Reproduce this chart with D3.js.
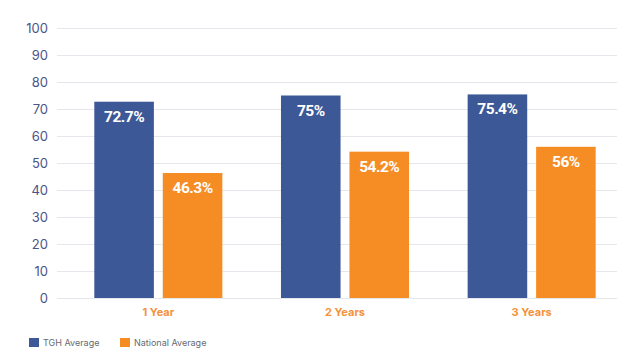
<!DOCTYPE html>
<html>
<head>
<meta charset="utf-8">
<script src="https://cdn.jsdelivr.net/npm/d3@7"></script>
<style>
  body { margin: 0; background: #fff; }
  svg { display: block; }
</style>
</head>
<body>
<div id="chart"></div>
<script>
// chart data
let categories = ["1 Year", "2 Years", "3 Years"];
let seriesNames = ["TGH Average", "National Average"];
let tghValues = [72.7, 75, 75.4];
let nationalValues = [46.3, 54.2, 56];
let valueLabels = [["72.7%", "46.3%"], ["75%", "54.2%"], ["75.4%", "56%"]];
let yTicks = [0, 10, 20, 30, 40, 50, 60, 70, 80, 90, 100];

let colors = ["#3d5896", "#f68d24"];
let width = 617, height = 352;

let svg = d3.select("#chart").append("svg")
    .attr("width", width)
    .attr("height", height);

// scales
let y = d3.scaleLinear()
    .domain([0, 100])
    .range([298, 28]);

let x0 = d3.scaleBand()
    .domain(categories)
    .range([65, 625])
    .paddingInner(0.314)
    .paddingOuter(0.157);

let x1 = d3.scaleBand()
    .domain(seriesNames)
    .range([0, x0.bandwidth()])
    .paddingInner(0.13);

// y axis with gridlines
let yAxis = d3.axisLeft(y)
    .tickValues(yTicks)
    .tickSize(-(width - 57))
    .tickPadding(9);

let gy = svg.append("g")
    .attr("transform", "translate(57,0)")
    .call(yAxis);
gy.select(".domain").remove();
gy.selectAll(".tick line")
    .attr("stroke", "#e4e7eb")
    .attr("stroke-width", 1.2);
gy.selectAll(".tick text")
    .attr("fill", "#4a5488")
    .attr("font-family", "Inter, sans-serif")
    .attr("font-size", "13px");

// bars
let rows = categories.map(function(c, i) {
    return { cat: c, vals: [tghValues[i], nationalValues[i]], labels: valueLabels[i] };
});

let groups = svg.selectAll(".group")
    .data(rows)
    .enter().append("g")
    .attr("class", "group")
    .attr("transform", function(d) { return "translate(" + x0(d.cat) + ",0)"; });

let cells = groups.selectAll(".cell")
    .data(function(d) {
        return d.vals.map(function(v, j) {
            return { name: seriesNames[j], value: v, label: d.labels[j], idx: j };
        });
    })
    .enter().append("g");

cells.append("rect")
    .attr("x", function(d) { return x1(d.name); })
    .attr("y", function(d) { return y(d.value); })
    .attr("width", x1.bandwidth())
    .attr("height", function(d) { return y(0) - y(d.value); })
    .attr("fill", function(d) { return colors[d.idx]; });

cells.append("text")
    .attr("x", function(d) { return x1(d.name) + x1.bandwidth() / 2; })
    .attr("y", function(d) { return y(d.value) + 20; })
    .attr("text-anchor", "middle")
    .attr("fill", "#fff")
    .attr("font-family", "Roboto, sans-serif")
    .attr("font-weight", "bold")
    .attr("font-size", "15.5px")
    .attr("letter-spacing", "-0.5px")
    .text(function(d) { return d.label; });

// category labels
svg.selectAll(".cat-label")
    .data(categories)
    .enter().append("text")
    .attr("class", "cat-label")
    .attr("x", function(d) { return x0(d) + x0.bandwidth() / 2; })
    .attr("y", 316)
    .attr("text-anchor", "middle")
    .attr("fill", "#f5913a")
    .attr("font-family", "Inter, sans-serif")
    .attr("font-weight", "bold")
    .attr("font-size", "11px")
    .text(function(d) { return d; });

// legend
let legendX = [29, 120];
let legend = svg.selectAll(".legend")
    .data(seriesNames)
    .enter().append("g")
    .attr("class", "legend")
    .attr("transform", function(d, i) { return "translate(" + legendX[i] + ",338)"; });

legend.append("rect")
    .attr("width", 10)
    .attr("height", 9)
    .attr("fill", function(d, i) { return colors[i]; });

legend.append("text")
    .attr("x", 14)
    .attr("y", 8)
    .attr("fill", "#666a70")
    .attr("font-family", "Inter, sans-serif")
    .attr("font-size", "9px")
    .text(function(d) { return d; });
</script>
</body>
</html>
